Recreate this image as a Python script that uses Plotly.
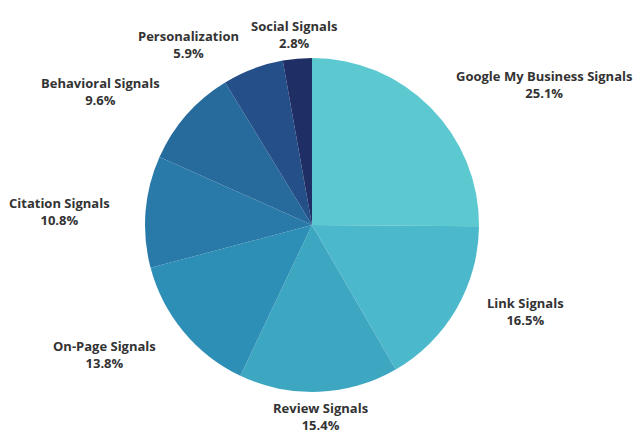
import math
import plotly.graph_objects as go

labels = ["Google My Business Signals", "Link Signals", "Review Signals", "On-Page Signals",
          "Citation Signals", "Behavioral Signals", "Personalization", "Social Signals"]
values = [25.1, 16.5, 15.4, 13.8, 10.8, 9.6, 5.9, 2.8]
colors = ["#5CC9D1", "#4BB9CB", "#3DA7C2", "#2E8FB6", "#2A7AA9", "#276A9C", "#244F88", "#1F2F66"]

W, H = 644, 436
OFF = 8                      # page body margin
CX, CY, R = 312 - OFF, 225 - OFF, 167  # pie centre / radius in figure pixels
LABEL_RX, LABEL_RY = 1.2, 1.03

fig = go.Figure(go.Pie(
    labels=labels, values=values, sort=False, direction="clockwise", rotation=0,
    marker=dict(colors=colors, line=dict(width=0)),
    textinfo="none", hoverinfo="label+percent",
    hole=0, showlegend=False,
    domain=dict(x=[(CX - R) / W, (CX + R) / W], y=[1 - (CY + R) / H, 1 - (CY - R) / H]),
))

total = sum(values)
cum = 0.0
annotations = []
for lab, v in zip(labels, values):
    mid = (cum + v / 2) / total * 2 * math.pi
    cum += v
    s, c = math.sin(mid), math.cos(mid)
    px = CX + R * LABEL_RX * s
    py = CY - R * LABEL_RY * c
    xa = "left" if s > 0.35 else ("right" if s < -0.35 else "center")
    ya = "bottom" if c > 0.55 else ("top" if c < -0.55 else "middle")
    annotations.append(dict(
        x=px / W, y=1 - py / H, xref="paper", yref="paper",
        xanchor=xa, yanchor=ya, showarrow=False, align="center",
        text=f"<b>{lab}</b><br><b>{v:.1f}%</b>",
        font=dict(family="Open Sans, Arial", size=13, color="#333333"),
    ))

fig.update_layout(
    width=W, height=H,
    margin=dict(l=0, r=0, t=0, b=0),
    paper_bgcolor="white",
    annotations=annotations,
)
fig.write_html("out.html")
